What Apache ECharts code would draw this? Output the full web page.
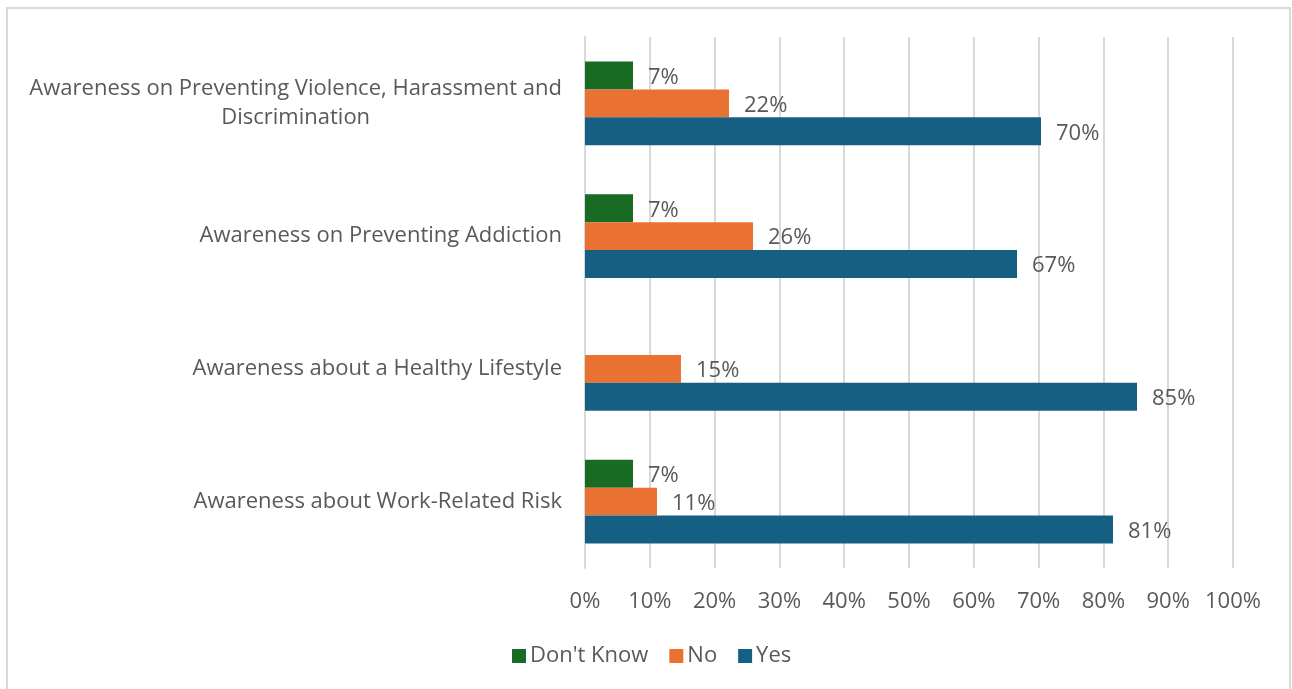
<!DOCTYPE html>
<html>
<head>
<meta charset="utf-8">
<title>Awareness survey</title>
<script src="https://cdn.jsdelivr.net/npm/echarts@6/dist/echarts.min.js"></script>
<style>
  html, body { margin: 0; padding: 0; background: #fff; }
  #chart { width: 1292px; height: 689px; }
</style>
</head>
<body>
<div id="chart"></div>
<script>
// Survey topics, listed bottom to top as the category axis draws them
const categories = [
  'Awareness about Work-Related Risk',
  'Awareness about a Healthy Lifestyle',
  'Awareness on Preventing Addiction',
  'Awareness on Preventing Violence, Harassment and Discrimination'
];
// Share of respondents (%) per answer, same order as categories
const dontKnow = [7.41, 0, 7.41, 7.41];
const no = [11.11, 14.81, 25.93, 22.22];
const yes = [81.48, 85.19, 66.67, 70.37];
const seriesNames = ["Don't Know", 'No', 'Yes'];
const colors = ['#196B24', '#E97132', '#156082'];
const xTicks = [0, 10, 20, 30, 40, 50, 60, 70, 80, 90, 100];

const FONT = "'Open Sans', sans-serif";
const TEXT = '#595959';
const SIZE = 22;

// Wrap long category names into lines no wider than maxW
const ctx = document.createElement('canvas').getContext('2d');
ctx.font = SIZE + 'px ' + FONT;
function wrap(text, maxW) {
  const words = text.split(' ');
  const lines = [];
  let cur = '';
  for (const w of words) {
    const t = cur ? cur + ' ' + w : w;
    if (ctx.measureText(t).width > maxW && cur) { lines.push(cur); cur = w; }
    else cur = t;
  }
  if (cur) lines.push(cur);
  return lines;
}

const barLabel = {
  show: true,
  position: 'right',
  distance: 15,
  offset: [0, 2],
  color: TEXT,
  fontSize: SIZE,
  fontFamily: FONT,
  formatter: p => (p.value > 0 ? Math.round(p.value) + '%' : '')
};

const chart = echarts.init(document.getElementById('chart'), null, { renderer: 'canvas' });
chart.setOption({
  animation: false,
  textStyle: { fontFamily: FONT },
  graphic: [{
    type: 'rect',
    shape: { x: 7, y: 8, width: 1283, height: 682 },
    style: { fill: 'none', stroke: '#d9d9d9', lineWidth: 2 },
    silent: true
  }],
  grid: { left: 585, right: 59, top: 37, bottom: 121, containLabel: false },
  legend: {
    data: seriesNames,
    bottom: 17,
    left: 507,
    itemWidth: 14,
    itemHeight: 14,
    itemGap: 21,
    icon: 'rect',
    textStyle: { color: TEXT, fontSize: SIZE, fontFamily: FONT, padding: [0, 0, 0, -1] }
  },
  xAxis: {
    type: 'value',
    min: xTicks[0],
    max: xTicks[xTicks.length - 1],
    interval: 10,
    axisLine: { show: false },
    axisTick: { show: false },
    splitLine: { show: true, lineStyle: { color: '#d9d9d9', width: 2 } },
    axisLabel: { color: TEXT, fontSize: SIZE, fontFamily: FONT, margin: 23, formatter: v => v + '%' }
  },
  yAxis: {
    type: 'category',
    data: categories,
    axisLine: { show: true, lineStyle: { color: '#d9d9d9', width: 2 } },
    axisTick: { show: false },
    axisLabel: {
      margin: 23,
      formatter: v => wrap(v, 548).map(l => '{c|' + l + '}').join('\n'),
      rich: { c: { align: 'center', color: TEXT, fontSize: SIZE, fontFamily: FONT, lineHeight: 29 } }
    }
  },
  series: [
    { name: seriesNames[0], data: dontKnow },
    { name: seriesNames[1], data: no },
    { name: seriesNames[2], data: yes }
  ].map((s, i) => ({
    type: 'bar',
    name: s.name,
    data: s.data,
    barGap: '0%',
    barCategoryGap: '37%',
    itemStyle: { color: colors[i] },
    label: barLabel
  }))
});
</script>
</body>
</html>
